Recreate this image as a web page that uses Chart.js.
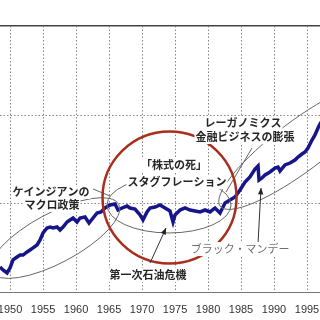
<!DOCTYPE html>
<html>
<head>
<meta charset="utf-8">
<script src="https://cdn.jsdelivr.net/npm/chart.js@4.4.1/dist/chart.umd.min.js"></script>
<style>
    html, body { margin: 0; padding: 0; background: #fff; }
    #wrap { width: 320px; height: 320px; }
</style>
</head>
<body>
<div id="wrap"><canvas id="chart"></canvas></div>
<script>
// Index level (log scale)
const years = [
    1948.48, 1948.94, 1949.55, 1950.0, 1950.45, 1951.06, 1951.52, 1951.97, 1952.58, 1953.03,
    1953.48, 1954.09, 1954.55, 1955.0, 1955.61, 1956.06, 1956.52, 1957.12, 1957.58, 1958.03,
    1958.64, 1959.09, 1959.55, 1960.15, 1960.61, 1961.36, 1961.97, 1962.58, 1963.18, 1963.79,
    1964.39, 1965.15, 1965.91, 1966.36, 1966.97, 1967.73, 1968.18, 1968.94, 1969.70, 1970.15,
    1970.76, 1971.21, 1971.97, 1972.73, 1973.48, 1974.24, 1974.70, 1975.0, 1975.76, 1976.52,
    1977.27, 1978.03, 1978.79, 1979.55, 1980.30, 1981.06, 1981.82, 1982.58, 1983.33, 1984.09,
    1984.85, 1985.61, 1986.36, 1987.12, 1987.58, 1987.73, 1988.18, 1988.64, 1989.39, 1990.15,
    1990.61, 1990.91, 1991.67, 1992.42, 1993.18, 1993.64, 1994.24, 1994.70, 1995.15, 1995.76,
    1996.21, 1996.67, 1997.12
];
const index = [
    191, 177, 164, 187, 230, 248, 261, 261, 283, 298,
    314, 339, 386, 463, 527, 541, 527, 541, 500, 541,
    616, 649, 683, 616, 683, 701, 600, 683, 778, 799,
    886, 958, 983, 841, 886, 933, 886, 863, 739, 649,
    799, 886, 909, 958, 886, 820, 616, 739, 841, 886,
    841, 820, 799, 841, 799, 886, 778, 1009, 1090, 1179,
    1414, 1740, 1982, 2439, 2636, 1833, 1931, 2087, 2257, 2502,
    2568, 2316, 2706, 2850, 3082, 3332, 3602, 3793, 4207, 5180,
    5898, 7071, 8264
];
const tickYears = [1950, 1955, 1960, 1965, 1970, 1975, 1980, 1985, 1990, 1995];
const gridLevels = [1000, 10000];

// Notes placed in data units (year, level)
const labels = [
    { text: "レーガノミクス", year: 1985.3, level: 8054 },
    { text: "金融ビジネスの膨張", year: 1985.6, level: 5598 },
    { text: "「株式の死」", year: 1974.85, level: 2704 },
    { text: "スタグフレーション", year: 1975.3, level: 1740 },
    { text: "ケインジアンの", year: 1956.2, level: 1342 },
    { text: "マクロ政策", year: 1956.35, level: 958 },
    { text: "第一次石油危機", year: 1970.9, level: 155 },
    { text: "ブラック・マンデー", year: 1984.85, level: 305, grey: true }
];
const rings = [
    { year: 1956.82, level: 406, rx: 72, ry: 25, rot: -28 },
    { year: 1974.09, level: 958, rx: 62, ry: 28, rot: 0 },
    { year: 1993.94, level: 4432, rx: 100, ry: 25, rot: -37 }
];
const redRing = { year: 1974.17, level: 1163, rx: 67, ry: 66 };
const arrows = [
    { from: [1971.21, 212], to: [1973.64, 527] },
    { from: [1987.58, 357], to: [1988.03, 1489] }
];
const leaders = [
    { from: [1962.58, 1451], to: [1965.15, 1209] },
    { from: [1986.67, 4207], to: [1982.73, 1342] }
];

// dotted grid, drawn under the line
const gridPlugin = {
    id: "dotgrid",
    beforeDatasetsDraw(chart) {
        const { ctx, chartArea: a, scales: { x, y } } = chart;
        ctx.save();
        ctx.strokeStyle = "#858585";
        ctx.lineWidth = 1;
        ctx.setLineDash([1.5, 2]);
        tickYears.forEach((yr) => {
            const gx = Math.round(x.getPixelForValue(yr)) + 0.5;
            ctx.beginPath();
            ctx.moveTo(gx, a.top);
            ctx.lineTo(gx, a.bottom);
            ctx.stroke();
        });
        gridLevels.forEach((v) => {
            const gy = Math.round(y.getPixelForValue(v)) + 0.5;
            ctx.beginPath();
            ctx.moveTo(a.left, gy);
            ctx.lineTo(a.right, gy);
            ctx.stroke();
        });
        ctx.restore();
    }
};

const notesPlugin = {
    id: "notes",
    afterDatasetsDraw(chart) {
        const { ctx, scales: { x, y } } = chart;
        const px = (v) => x.getPixelForValue(v);
        const py = (v) => y.getPixelForValue(v);
        ctx.save();

        // grey ellipses
        ctx.strokeStyle = "#666";
        ctx.lineWidth = 1;
        rings.forEach((r) => {
            ctx.beginPath();
            ctx.ellipse(px(r.year), py(r.level), r.rx, r.ry, r.rot * Math.PI / 180, 0, Math.PI * 2);
            ctx.stroke();
        });
        leaders.forEach((l) => {
            ctx.beginPath();
            ctx.moveTo(px(l.from[0]), py(l.from[1]));
            ctx.lineTo(px(l.to[0]), py(l.to[1]));
            ctx.stroke();
        });

        // red circle
        ctx.strokeStyle = "#a92e1e";
        ctx.lineWidth = 2.5;
        ctx.beginPath();
        ctx.ellipse(px(redRing.year), py(redRing.level), redRing.rx, redRing.ry, 0, 0, Math.PI * 2);
        ctx.stroke();

        // arrows
        ctx.strokeStyle = "#333";
        ctx.fillStyle = "#222";
        ctx.lineWidth = 1;
        arrows.forEach((a) => {
            const x1 = px(a.from[0]), y1 = py(a.from[1]);
            const x2 = px(a.to[0]), y2 = py(a.to[1]);
            const ang = Math.atan2(y2 - y1, x2 - x1);
            ctx.beginPath();
            ctx.moveTo(x1, y1);
            ctx.lineTo(x2, y2);
            ctx.stroke();
            ctx.beginPath();
            ctx.moveTo(x2, y2);
            ctx.lineTo(x2 - 7 * Math.cos(ang - 0.4), y2 - 7 * Math.sin(ang - 0.4));
            ctx.lineTo(x2 - 7 * Math.cos(ang + 0.4), y2 - 7 * Math.sin(ang + 0.4));
            ctx.closePath();
            ctx.fill();
        });

        // text
        ctx.textAlign = "center";
        ctx.textBaseline = "middle";
        labels.forEach((t) => {
            ctx.font = (t.grey ? "" : "bold ") + '11px "Noto Sans CJK JP"';
            const cx = px(t.year), cy = py(t.level);
            const w = ctx.measureText(t.text).width;
            ctx.fillStyle = "#fff";
            ctx.fillRect(cx - w / 2 - 1, cy - 7, w + 2, 14);
            ctx.fillStyle = t.grey ? "#707070" : "#262626";
            ctx.fillText(t.text, cx, cy);
        });
        ctx.restore();
    }
};

new Chart(document.getElementById("chart"), {
    type: "line",
    data: {
        datasets: [{
            data: years.map((yr, i) => ({ x: yr, y: index[i] })),
            borderColor: "#16168a",
            borderWidth: 3.5,
            pointRadius: 0,
            tension: 0,
            fill: false
        }]
    },
    options: {
        responsive: true,
        maintainAspectRatio: false,
        animation: false,
        layout: { padding: { top: 26, left: 0, right: 0, bottom: 0 } },
        plugins: { legend: { display: false }, tooltip: { enabled: false } },
        scales: {
            x: {
                type: "linear",
                min: 1948.48,
                max: 1996.97,
                afterBuildTicks: (s) => { s.ticks = tickYears.map((v) => ({ value: v })); },
                afterFit: (s) => { s.height = 28; s.paddingLeft = 0; s.paddingRight = 0; },
                ticks: {
                    callback: (v) => String(v),
                    color: "#333",
                    font: { family: "Liberation Sans", size: 11 },
                    padding: 11,
                    maxRotation: 0,
                    autoSkip: false
                },
                grid: { display: false, drawTicks: false },
                border: { display: true, color: "#777", width: 1 }
            },
            top: {
                type: "linear",
                position: "top",
                min: 1948.48,
                max: 1996.97,
                afterFit: (s) => { s.height = 0; s.paddingLeft = 0; s.paddingRight = 0; },
                ticks: { display: false },
                grid: { display: false, drawTicks: false },
                border: { display: true, color: "#444", width: 1.5 }
            },
            y: {
                type: "logarithmic",
                min: 100,
                max: 100000,
                afterFit: (s) => { s.width = 0; },
                ticks: { display: false },
                grid: { display: false, drawTicks: false },
                border: { display: false }
            }
        }
    },
    plugins: [gridPlugin, notesPlugin]
});
</script>
</body>
</html>
